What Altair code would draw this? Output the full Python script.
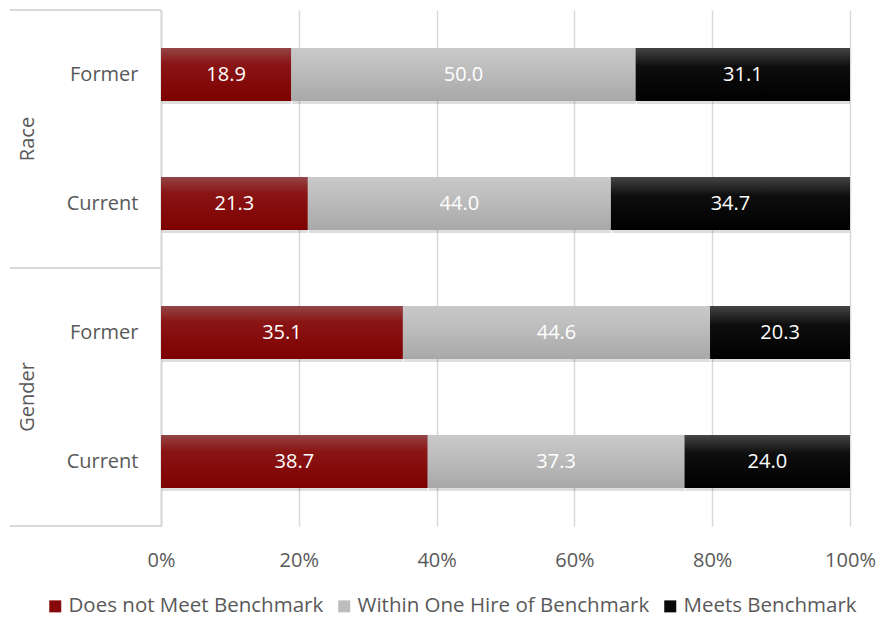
import altair as alt
import pandas as pd

groups = ["Race", "Race", "Gender", "Gender"]
statuses = ["Former", "Current", "Former", "Current"]
categories = ["Does not Meet Benchmark", "Within One Hire of Benchmark", "Meets Benchmark"]
does_not_meet = [18.9, 21.3, 35.1, 38.7]
within_one = [50.0, 44.0, 44.6, 37.3]
meets = [31.1, 34.7, 20.3, 24.0]
x_ticks = [0, 20, 40, 60, 80, 100]

series = [does_not_meet, within_one, meets]
rows = []
for i, (g, s) in enumerate(zip(groups, statuses)):
    for ci, (cat, vals) in enumerate(zip(categories, series)):
        rows.append({"key": f"{g}|{s}", "group": g, "status": s,
                     "category": cat, "order": ci, "value": vals[i]})
df = pd.DataFrame(rows)
keys = [f"{g}|{s}" for g, s in zip(groups, statuses)]

FONT = "Open Sans"
GRID = "#d9d9d9"
LABEL = "#595959"
FS = 20

yscale = alt.Scale(domain=keys, paddingInner=0, paddingOuter=0)
xscale = alt.Scale(domain=[0, 100], nice=False)

base = alt.Chart(df).transform_stack(
    stack="value", groupby=["key"], as_=["start", "end"],
    sort=[alt.SortField("order", order="ascending")]
).transform_calculate(mid="(datum.start + datum.end) / 2")

y_enc = alt.Y("key:N", scale=yscale, title=None,
              axis=alt.Axis(labelExpr="split(datum.label, '|')[1]",
                            labelFont=FONT, labelFontSize=FS, labelColor=LABEL,
                            labelPadding=23, ticks=False, domainColor=GRID,
                            domainWidth=2, grid=False))
x_enc = alt.X("start:Q", scale=xscale, title=None,
              axis=alt.Axis(values=x_ticks, labelExpr="datum.value + '%'",
                            labelFont=FONT, labelFontSize=FS, labelColor=LABEL,
                            labelPadding=24, ticks=False, domain=False, labelFlush=False,
                            grid=True, gridColor=GRID, gridWidth=1.5))

shadow = base.mark_bar(size=53, color="#000000", opacity=0.13, yOffset=3, xOffset=1).encode(
    y=y_enc, x=x_enc, x2="end:Q")

solid = base.mark_bar(size=53).encode(
    y=y_enc, x=x_enc, x2="end:Q",
    color=alt.Color("category:N",
                    scale=alt.Scale(domain=categories, range=["#860808", "#bdbdbd", "#0a0a0a"]),
                    legend=alt.Legend(title=None, orient="none", direction="horizontal",
                                      legendX=-116, legendY=586, symbolType="square",
                                      symbolSize=144, symbolStrokeWidth=0, labelLimit=0,
                                      labelFont=FONT, labelFontSize=20.5, labelColor=LABEL,
                                      columnPadding=10, symbolOffset=0, labelOffset=3)))

grads = {
    categories[0]: [("#944545", 0), ("#8a1515", 0.3), ("#7e0000", 1)],
    categories[1]: [("#c9c9c9", 0), ("#bdbdbd", 0.4), ("#a8a8a8", 1)],
    categories[2]: [("#454545", 0), ("#0e0e0e", 0.35), ("#000000", 1)],
}
grad_layers = []
for cat, stops in grads.items():
    grad_layers.append(
        base.transform_filter(alt.datum.category == cat).mark_bar(
            size=53,
            fill=alt.LinearGradient(gradient="linear", x1=0, x2=0, y1=0, y2=1,
                                    stops=[alt.GradientStop(color=c, offset=o) for c, o in stops])
        ).encode(y=alt.Y("key:N", scale=yscale), x=alt.X("start:Q", scale=xscale), x2="end:Q"))

labels = base.mark_text(color="white", font=FONT, fontSize=FS).encode(
    y=alt.Y("key:N", scale=yscale), x=alt.X("mid:Q", scale=xscale),
    text=alt.Text("value:Q", format=".1f"))

grp_df = pd.DataFrame({"group": ["Race", "Gender"], "key": ["Race|Former", "Gender|Former"]})
grp_text = alt.Chart(grp_df).mark_text(angle=270, font=FONT, fontSize=FS, color=LABEL).encode(
    y=alt.Y("key:N", scale=yscale, bandPosition=1), x=alt.value(-133), text="group:N")

top_df = pd.DataFrame({"key": ["Race|Former"]})
bot_df = pd.DataFrame({"key": ["Race|Current", "Gender|Current"]})
sep_top = alt.Chart(top_df).mark_rule(color=GRID, strokeWidth=2).encode(
    y=alt.Y("key:N", scale=yscale, bandPosition=0), x=alt.value(-151), x2=alt.value(0))
sep_bot = alt.Chart(bot_df).mark_rule(color=GRID, strokeWidth=2).encode(
    y=alt.Y("key:N", scale=yscale, bandPosition=1), x=alt.value(-151), x2=alt.value(0))

chart = alt.layer(shadow, solid, *grad_layers, labels, grp_text, sep_top, sep_bot).properties(
    width=689, height=516,
    autosize=alt.AutoSizeParams(type="none"),
    padding={"left": 153, "top": 2, "right": 26, "bottom": 92},
).configure_view(stroke=None)

chart.save("out.html", embed_options={"renderer": "svg", "actions": False})
